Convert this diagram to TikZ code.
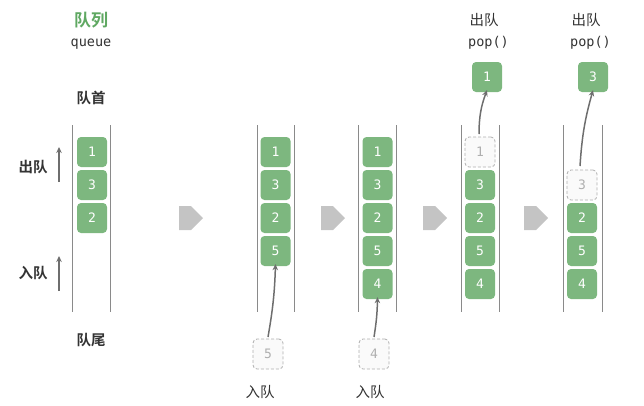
\documentclass[tikz,border=0pt]{standalone}
\usepackage{fontspec}
\setmainfont{DejaVu Sans}
\setmonofont{DejaVu Sans Mono}
\newfontfamily\cjk{Noto Sans CJK SC}
\newfontfamily\cjkb{Noto Sans CJK SC Bold}
\usetikzlibrary{arrows.meta,shapes.arrows}
\definecolor{boxgreen}{HTML}{7DB77F}
\definecolor{titlegreen}{HTML}{5FA862}
\definecolor{txt}{HTML}{333333}
\definecolor{wallgray}{HTML}{8A8A8A}
\definecolor{arrgray}{HTML}{6E6E6E}
\definecolor{blockgray}{HTML}{C4C4C4}
\definecolor{ghost}{HTML}{AFAFAF}
\definecolor{ghostfill}{HTML}{FAFAFA}
\begin{document}
\begin{tikzpicture}[x=1pt,y=-1pt,
  elem/.style={draw=none,fill=boxgreen,rounded corners=4pt,minimum width=30pt,minimum height=30pt,inner sep=0pt,text=white,font=\ttfamily\fontsize{13}{15}\selectfont},
  ghostbox/.style={draw=ghost,dash pattern=on 3pt off 2pt,line width=0.8pt,fill=ghostfill,rounded corners=4pt,minimum width=30pt,minimum height=30pt,inner sep=0pt,text=ghost,font=\ttfamily\fontsize{13}{15}\selectfont},
  wall/.style={draw=wallgray,line width=0.9pt},
  moved/.style={draw=arrgray,line width=1.5pt,-{Stealth[length=6pt,width=5.5pt]}},
  flow/.style={single arrow,fill=blockgray,draw=none,minimum height=24pt,minimum width=24pt,single arrow head extend=0pt,inner sep=0pt,single arrow tip angle=90},
  lab/.style={text=txt,font=\cjk\fontsize{14.5}{16}\selectfont},
  labb/.style={text=txt,font=\cjkb\fontsize{14.5}{16}\selectfont},
  code/.style={text=txt,font=\ttfamily\fontsize{13.5}{15}\selectfont}]
\useasboundingbox (0,0) rectangle (644,405);

% stack 1
\node[font=\cjkb\fontsize{17}{19}\selectfont,text=titlegreen] (title) at (91,20) {队列};
\node[code] (queue) at (91,44) {queue};
\node[labb] (head) at (91,98) {队首};
\node[labb] (tail) at (91,340) {队尾};
\coordinate (w1a) at (72,125); \coordinate (w1b) at (72,312);
\coordinate (w1c) at (110,125); \coordinate (w1d) at (110,312);
\draw[wall] (w1a) -- (w1b); \draw[wall] (w1c) -- (w1d);
\node[elem] (a1) at (92,152) {1};
\node[elem] (a3) at (92,185) {3};
\node[elem] (a2) at (92,218) {2};
\node[labb] (outl) at (33,167) {出队};
\node[labb] (inl) at (33,273) {入队};
\coordinate (o1) at (59,182); \coordinate (o2) at (59,147);
\coordinate (i1) at (59,291); \coordinate (i2) at (59,256);
\draw[moved] (o1) -- (o2);
\draw[moved] (i1) -- (i2);

% stack 2
\coordinate (w2a) at (257,125); \coordinate (w2b) at (257,312);
\coordinate (w2c) at (294,125); \coordinate (w2d) at (294,312);
\draw[wall] (w2a) -- (w2b); \draw[wall] (w2c) -- (w2d);
\node[elem] (b1) at (275.5,152) {1};
\node[elem] (b3) at (275.5,185) {3};
\node[elem] (b2) at (275.5,218) {2};
\node[elem] (b5) at (275.5,251) {5};
\node[ghostbox] (g5) at (268,354) {5};
\node[lab] (in2) at (260,392) {入队};
\coordinate (g5s) at (268,337);
\draw[moved] (g5s) to[bend right=4] ([yshift=2pt]b5.south);

% stack 3
\coordinate (w3a) at (358,125); \coordinate (w3b) at (358,312);
\coordinate (w3c) at (396,125); \coordinate (w3d) at (396,312);
\draw[wall] (w3a) -- (w3b); \draw[wall] (w3c) -- (w3d);
\node[elem] (c1) at (377.5,152) {1};
\node[elem] (c3) at (377.5,185) {3};
\node[elem] (c2) at (377.5,218) {2};
\node[elem] (c5) at (377.5,251) {5};
\node[elem] (c4) at (377.5,284) {4};
\node[ghostbox] (g4) at (374,354) {4};
\node[lab] (in3) at (370,392) {入队};
\coordinate (g4s) at (374,337);
\draw[moved] (g4s) to[bend right=4] ([yshift=2pt]c4.south);

% stack 4
\coordinate (w4a) at (461,125); \coordinate (w4b) at (461,312);
\coordinate (w4c) at (499,125); \coordinate (w4d) at (499,312);
\draw[wall] (w4a) -- (w4b); \draw[wall] (w4c) -- (w4d);
\node[ghostbox] (d1) at (480,152) {1};
\node[elem] (d3) at (480,185) {3};
\node[elem] (d2) at (480,218) {2};
\node[elem] (d5) at (480,251) {5};
\node[elem] (d4) at (480,284) {4};
\node[elem] (p1) at (487,77) {1};
\node[lab] (out4) at (484,20) {出队};
\node[code,anchor=west,inner sep=0pt] (pop4) at (468,43) {pop()};
\coordinate (d1s) at (479,134);
\draw[moved] (d1s) to[bend left=10] ([yshift=2pt]p1.south);

% stack 5
\coordinate (w5a) at (563,125); \coordinate (w5b) at (563,312);
\coordinate (w5c) at (602,125); \coordinate (w5d) at (602,312);
\draw[wall] (w5a) -- (w5b); \draw[wall] (w5c) -- (w5d);
\node[ghostbox] (e3) at (582,185) {3};
\node[elem] (e2) at (582,218) {2};
\node[elem] (e5) at (582,251) {5};
\node[elem] (e4) at (582,284) {4};
\node[elem] (p3) at (593,77) {3};
\node[lab] (out5) at (586,20) {出队};
\node[code,anchor=west,inner sep=0pt] (pop5) at (570,43) {pop()};
\coordinate (e3s) at (580,166);
\draw[moved] (e3s) to[bend left=6] ([yshift=2pt]p3.south);

% flow arrows
\node[flow] (f1) at (185,218) {};
\node[flow] (f2) at (327,218) {};
\node[flow] (f3) at (429,218) {};
\node[flow] (f4) at (530,218) {};
\end{tikzpicture}
\end{document}
